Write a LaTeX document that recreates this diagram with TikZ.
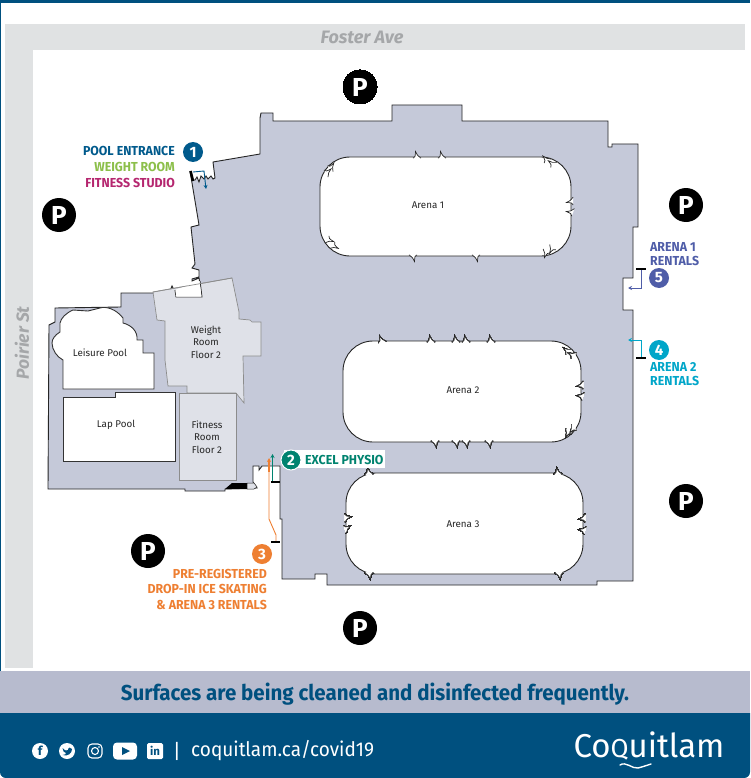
\documentclass[tikz,border=0pt]{standalone}
\usepackage{fontspec}
\setmainfont{Fira Sans}
\newfontfamily\condfont[FakeStretch=0.95]{Fira Sans}
\usetikzlibrary{arrows.meta}
\definecolor{navy}{HTML}{00507F}
\definecolor{lavender}{HTML}{B7BBCE}
\definecolor{building}{HTML}{C5C9D9}
\definecolor{upperroom}{HTML}{DFE1E8}
\definecolor{road}{HTML}{E0E2E3}
\definecolor{roadtext}{HTML}{A5A7A9}
\definecolor{poolblue}{HTML}{005A8C}
\definecolor{weightgreen}{HTML}{8CBF4A}
\definecolor{fitnesspink}{HTML}{B5266F}
\definecolor{physiogreen}{HTML}{00836F}
\definecolor{skateorange}{HTML}{EE7F32}
\definecolor{arenapurple}{HTML}{4F5DA8}
\definecolor{arenacyan}{HTML}{00A6C9}
\tikzset{
	wall/.style={draw=black!85,line width=.9pt,line join=miter},
	roomwall/.style={draw=black!45,line width=.7pt},
	poolwall/.style={draw=black!80,fill=white,line width=.9pt},
	parking/.style={circle,fill=black,text=white,minimum size=34pt,inner sep=0pt,font=\bfseries\fontsize{26}{26}\selectfont},
	badge/.style={circle,text=white,minimum size=20pt,inner sep=0pt,font=\bfseries\fontsize{15}{15}\selectfont},
	maplabel/.style={inner sep=0pt,font=\fontsize{9.8}{12.5}\selectfont,text=black!85,align=center},
	doorlabel/.style={inner sep=0pt,font=\condfont\bfseries\fontsize{13}{14}\selectfont},
	doorbar/.style={line width=2.6pt,black},
	doorline/.style={line width=.9pt,-{Stealth[length=4pt,width=4pt]}},
	icon/.style={inner sep=0pt,text=navy,font=\bfseries\fontsize{12.5}{12.5}\selectfont}
}
\newcommand{\nub}[3]{\filldraw[wall,line width=.7pt,fill=white,shift={(#1,#2)},rotate=#3] (-4,1.2) .. controls (-1.8,0) .. (-1.5,-5.5) .. controls (-.3,-2.5) and (1,-.5) .. (4,1.2);}
\begin{document}
\begin{tikzpicture}[x=1pt,y=-1pt]
	\useasboundingbox (0,0) rectangle (750,778);
	\fill[white] (0,0) rectangle (750,778);
	% frame and roads
	\fill[navy] (0,0) rectangle (750,3);
	\fill[navy] (0,0) rectangle (1,713);
	\fill[road] (5,24) rectangle (745,50);
	\fill[road] (5,24) rectangle (33,668);
	\node (foster) at (362,37) [inner sep=0pt,text=roadtext,font=\bfseries\itshape\fontsize{18}{18}\selectfont] {Foster Ave};
	\node (poirier) at (22,343) [rotate=90,inner sep=0pt,text=roadtext,font=\bfseries\itshape\fontsize{17.5}{17.5}\selectfont] {Poirier St};
	% building
	\draw[wall,fill=building] (190,171) -- (193,180) -- (195,180) -- (197,177) -- (199,182) -- (201,176) -- (204,179) -- (206,176) -- (208,179) -- (211,176) -- (213,179) -- (215,178) -- (213,162) -- (260,154) -- (260,118) -- (261,113) -- (273,113) -- (273,121) -- (392,121) -- (392,105) -- (462,105) -- (462,121) -- (608,121) -- (608,147) -- (612,147) -- (612,144) -- (638,144) -- (638,227) -- (633,227) -- (633,278) -- (623,278) -- (623,310) -- (633,310) -- (633,581) -- (597,581) -- (597,585) -- (327,585) -- (327,574) -- (315,574) -- (315,579) -- (282,579) -- (282,519) -- (280,519) -- (280,466) -- (262,466) -- (259,470) -- (259,466) -- (253,466) -- (253,482) -- (257,488) -- (225,489) -- (225,491) -- (185,491) -- (185,489) -- (48,489) -- (49,325) -- (55,322) -- (55,308) -- (121,307) -- (121,293) -- (153,293) -- (170,291) -- (172,286) -- (174,290) -- (200,284) -- (199,278) -- (192,281) -- (192,279) -- (199,277) -- (199,270) -- (192,268) -- (195,264) -- (191,227) -- (199,225) -- cycle;
	% upper floor rooms
	\draw[roomwall,fill=upperroom] (153,292) -- (232,278) -- (239,312) -- (239,319) -- (250,320) -- (252,322) -- (261,322) -- (261,356) -- (243,356) -- (244,403) -- (240,398) -- (236,393) -- (187,393) -- (187,386) -- (168,386) -- (165,360) -- (165,321) -- (157,320) -- cycle;
	\draw[roomwall,fill=upperroom] (179,393) rectangle (236,480);
	\draw[wall,fill=white] (175,290) -- (176,297) -- (202,297) -- (200,281);
	\fill[white] (175.5,290) -- (176,296.5) -- (201.5,296.5) -- (199.5,281) -- cycle;
	\draw[black!45,line width=.7pt] (153,292) -- (232,278);
	% pools
	\draw[poolwall] (63,389) -- (154,389) -- (154,353) -- (143,353) -- (143,340) -- (137,340) .. controls (138,331) and (131,325) .. (123,323) -- (123,318) .. controls (116,309) and (106,306) .. (100,308) -- (88,311) -- (73,310) .. controls (66,313) and (61,318) .. (60,323) -- (60,332) .. controls (55,335) and (52,339) .. (52,343) .. controls (52,350) and (57,357) .. (63,360) -- cycle;
	\draw[poolwall] (63,397) -- (115,397) -- (115,392) -- (175,392) -- (175,461) -- (63,461) -- cycle;
	\node (leisure) at (100,353) [maplabel] {Leisure Pool};
	\node (lap) at (116,425) [maplabel] {Lap Pool};
	\node (weight) at (206,342) [maplabel] {Weight\\Room\\Floor 2};
	\node (fitness) at (207,437) [maplabel] {Fitness\\Room\\Floor 2};
	% stairs
	\fill[black] (225,489) -- (232,483) -- (247,483) -- (247,489) -- cycle;
	\filldraw[wall,fill=upperroom,line width=.5pt] (247,483) -- (254,483) -- (257,487) -- (254,489) -- (247,489) -- cycle;
	% arenas
	\draw[wall,fill=white,rounded corners=30pt] (320,157) rectangle (571,256);
	\draw[wall,fill=white,rounded corners=30pt] (343,341) rectangle (581,442);
	\draw[wall,fill=white,rounded corners=30pt] (346,473) rectangle (583,574);
	\node (arenaA) at (428,205) [maplabel] {Arena 1};
	\node (arenaB) at (463,390) [maplabel] {Arena 2};
	\node (arenaC) at (463,524) [maplabel] {Arena 3};
	\foreach \x/\y/\a in {417/157/0,442/157/0,331/168/-45,327/173/-60,547/160/30,553/164/40,572/201/90,572/212/70,328/240/-120,333/246/-130,413/256/180,476/256/180,546/252/150,552/248/140}
		\nub{\x}{\y}{\a}
	\foreach \x/\y/\a in {382/341/10,431/341/0,456/341/0,466/341/0,491/341/0,568/351/40,573/355/50,582/385/90,582/396/70,568/432/140,573/428/130,435/442/180,456/442/180,466/442/180,489/442/180}
		\nub{\x}{\y}{\a}
	\foreach \x/\y/\a in {369/473/0,558/473/0,346/518/-90,346/529/-70,584/518/90,584/530/70,369/574/180,559/574/180}
		\nub{\x}{\y}{\a}
	% parking
	\node[parking] (parkA) at (360,87) {P};
	\node[parking] (parkB) at (59,215) {P};
	\node[parking] (parkC) at (686,205) {P};
	\node[parking] (parkD) at (686,501) {P};
	\node[parking] (parkE) at (148,551) {P};
	\node[parking] (parkF) at (360,628) {P};
	% pool entrance
	\node[badge,fill=poolblue] (badgeA) at (193,152) {1};
	\node[doorlabel,anchor=east,text=poolblue] (pool) at (175,151) {POOL ENTRANCE};
	\node[doorlabel,anchor=east,text=weightgreen] (gym) at (175,167) {WEIGHT ROOM};
	\node[doorlabel,anchor=east,text=fitnesspink] (studio) at (175,183) {FITNESS STUDIO};
	\coordinate (doorAa) at (190.5,171);
	\coordinate (doorAb) at (193,181);
	\coordinate (doorAc) at (206,189);
	\draw[doorbar] (doorAa) -- (doorAb);
	\draw[doorline,poolblue] (193,172) -- (204,171) -- (doorAc);
	% excel physio
	\fill[white] (284,450) rectangle (385,468);
	\node[badge,fill=physiogreen,draw=white,line width=1pt] (badgeB) at (291,460) {2};
	\node[doorlabel,anchor=west,text=physiogreen] (physio) at (305,460) {EXCEL PHYSIO};
	\coordinate (barBa) at (271,482);
	\coordinate (barBb) at (280,482);
	\coordinate (doorB) at (272.5,454);
	\draw[doorline,physiogreen] (272.5,482) -- (doorB);
	\draw[doorbar] (barBa) -- (barBb);
	% drop-in skating
	\node[badge,fill=skateorange] (badgeC) at (262,554) {3};
	\node[doorlabel,anchor=east,text=skateorange] (prereg) at (267,574) {PRE-REGISTERED};
	\node[doorlabel,anchor=east,text=skateorange] (dropin) at (267,589) {DROP-IN ICE SKATING};
	\node[doorlabel,anchor=east,text=skateorange] (rentalsC) at (267,605) {\& ARENA 3 RENTALS};
	\coordinate (barCa) at (271,542);
	\coordinate (barCb) at (280,542);
	\coordinate (doorC) at (269,458);
	\draw[doorline,skateorange] (276,542) -- (276,535) -- (269,519) -- (doorC);
	\draw[line width=2pt,skateorange] (268.5,460) -- (268.5,472);
	\draw[doorbar] (barCa) -- (barCb);
	% arena 2 rentals
	\node[badge,fill=arenacyan] (badgeD) at (659,350) {4};
	\node[doorlabel,anchor=north west,text=arenacyan,align=left] (rentalsD) at (650,362) {ARENA 2\\RENTALS};
	\coordinate (barDa) at (636,358);
	\coordinate (barDb) at (646,358);
	\coordinate (doorD) at (628,340);
	\draw[doorline,arenacyan] (641.5,358) -- (641.5,340) -- (doorD);
	\draw[doorbar] (barDa) -- (barDb);
	% arena 1 rentals
	\node[badge,fill=arenapurple] (badgeE) at (659,278) {5};
	\node[doorlabel,anchor=north west,text=arenapurple,align=left] (rentalsE) at (650,242) {ARENA 1\\RENTALS};
	\coordinate (barEa) at (636,269);
	\coordinate (barEb) at (646,269);
	\coordinate (doorE) at (628,288);
	\draw[doorline,arenapurple] (641.5,269) -- (641.5,288) -- (doorE);
	\draw[doorbar] (barEa) -- (barEb);
	% bottom bands
	\fill[lavender] (0,671) rectangle (750,713);
	\fill[navy] (0,713) [rounded corners=6pt] -- (0,778) -- (750,778) [sharp corners] -- (750,713) -- cycle;
	\node (notice) at (375,694) [inner sep=0pt,text=navy,font=\condfont\bfseries\fontsize{21.6}{21.6}\selectfont] {Surfaces are being cleaned and disinfected frequently.};
	% social icons
	\node[circle,fill=white,minimum size=16pt,icon] (facebook) at (40,751) {f};
	\node[circle,fill=white,minimum size=16pt,inner sep=0pt] (twitter) at (67,751) {};
	\fill[navy] (62.5,748) .. controls (65,751) and (67,751) .. (68,750) .. controls (68,747) and (71,747) .. (72,749) .. controls (72,753) and (68,757) .. (62.5,755) .. controls (65,755) and (66,754) .. (66,753) .. controls (64,753) and (63,751) .. (62.5,748) -- cycle;
	\node[draw=white,line width=1.1pt,rounded corners=4pt,minimum size=14pt,inner sep=0pt] (instagram) at (95,751) {};
	\draw[white,line width=1.1pt] (instagram.center) circle (3.5pt);
	\fill[white] (99,747) circle (.9pt);
	\node[fill=white,rounded corners=4pt,minimum width=24pt,minimum height=17pt,inner sep=0pt] (youtube) at (125,751) {};
	\fill[navy] (122,747) -- (130,751) -- (122,755) -- cycle;
	\node[fill=white,rounded corners=1.5pt,minimum size=16pt,icon,font=\bfseries\fontsize{11.5}{11.5}\selectfont] (linkedin) at (155,751) {in};
	\node (sep) at (177,751) [inner sep=0pt,text=white,font=\fontsize{20}{20}\selectfont] {|};
	\node (site) at (191,751) [anchor=west,inner sep=0pt,text=white,font=\condfont\fontsize{20}{20}\selectfont] {coquitlam.ca/covid19};
	\node (logo) at (649,746) [inner sep=0pt,text=white,font=\fontsize{33}{33}\selectfont] {Co{\fontsize{26}{26}\selectfont Q}uitlam};
	\draw[white,line width=1.4pt,line cap=round] (620,765) .. controls (626,761) and (632,769) .. (638,768) .. controls (642,767) and (648,765) .. (651,764);
\end{tikzpicture}
\end{document}
